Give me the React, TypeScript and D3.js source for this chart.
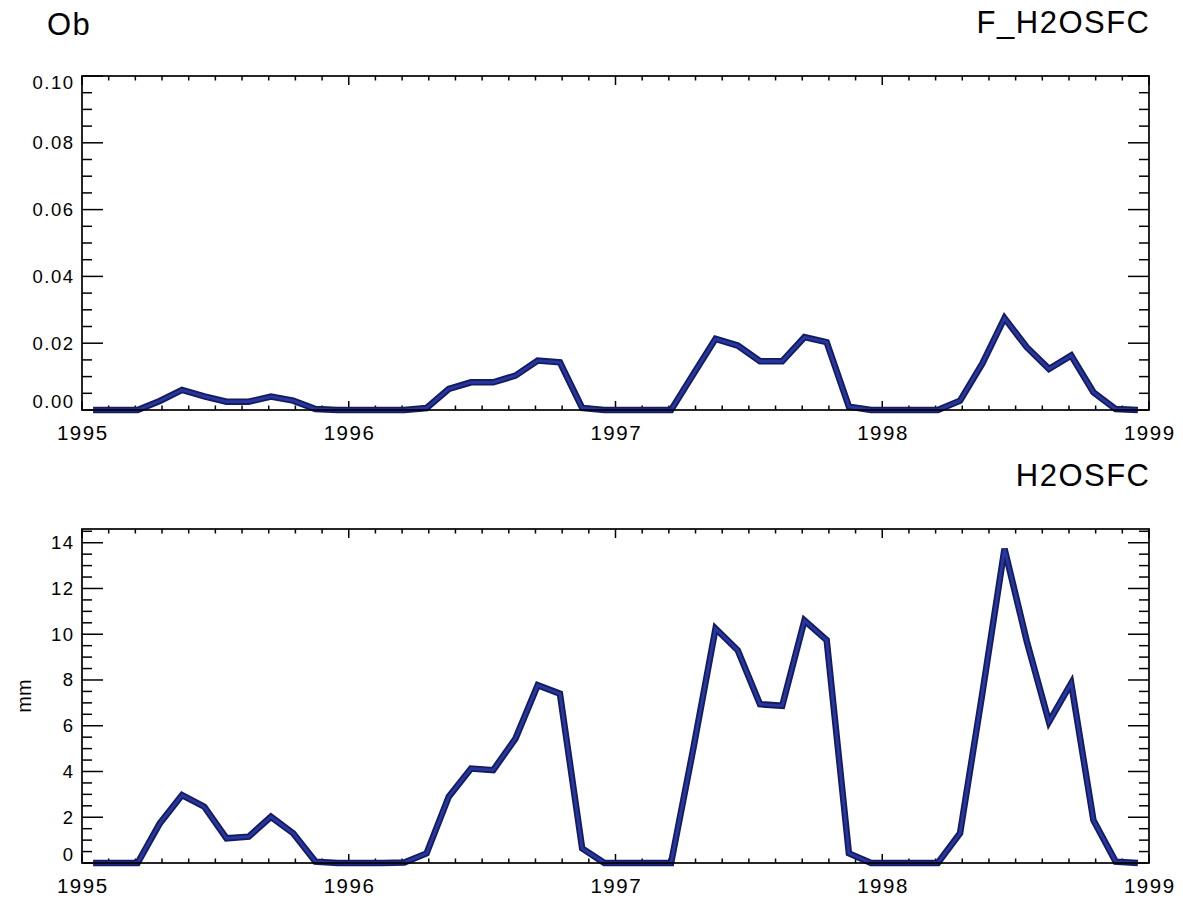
import React from 'react';
import * as d3 from 'd3';

const W = 1183;
const H = 901;

// decimal-year range of the x axis and its labelled years
const xYears = [1995, 1996, 1997, 1998, 1999];

// monthly means, Jan 1995 .. Dec 1998
const fH2osfc = [
  0, 0, 0, 0.0027, 0.006, 0.0041, 0.0025, 0.0025, 0.004, 0.0028, 0.0003, 0,
  0, 0, 0, 0.0006, 0.0063, 0.0083, 0.0083, 0.0103, 0.0148, 0.0143, 0.0006, 0,
  0, 0, 0, 0.0107, 0.0213, 0.0193, 0.0146, 0.0146, 0.0218, 0.0203, 0.001, 0,
  0, 0, 0, 0.0028, 0.0139, 0.0275, 0.0188, 0.0123, 0.0163, 0.0053, 0.0003, 0,
];

const h2osfc = [
  0, 0, 0, 1.73, 2.97, 2.46, 1.08, 1.15, 2.02, 1.3, 0.06, 0,
  0, 0, 0.02, 0.42, 2.9, 4.13, 4.06, 5.44, 7.77, 7.4, 0.64, 0,
  0, 0, 0, 5.0, 10.25, 9.3, 6.94, 6.87, 10.6, 9.74, 0.42, 0,
  0, 0, 0, 1.3, 7.4, 13.74, 9.7, 6.17, 7.86, 1.87, 0.06, 0,
];

const fTicks = [0, 0.02, 0.04, 0.06, 0.08, 0.1];
const fTickLabels = ['0.00', '0.02', '0.04', '0.06', '0.08', '0.10'];
const hTicks = [0, 2, 4, 6, 8, 10, 12, 14];
const hTickLabels = ['0', '2', '4', '6', '8', '10', '12', '14'];

const FONT = '"Liberation Sans", Arial, Helvetica, sans-serif';
const LEFT = 82;
const RIGHT = 1149;

type Panel = {
  top: number;
  bottom: number;
  values: number[];
  domain: [number, number];
  ticks: number[];
  labels: string[];
  minorStep: number;
  leftTitle?: string;
  rightTitle: string;
  yLabel?: string;
};

const panels: Panel[] = [
  {
    top: 76,
    bottom: 410,
    values: fH2osfc,
    domain: [0, 0.1],
    ticks: fTicks,
    labels: fTickLabels,
    minorStep: 0.005,
    leftTitle: 'Ob',
    rightTitle: 'F_H2OSFC',
  },
  {
    top: 529,
    bottom: 863,
    values: h2osfc,
    domain: [0, 14.6],
    ticks: hTicks,
    labels: hTickLabels,
    minorStep: 0.5,
    rightTitle: 'H2OSFC',
    yLabel: 'mm',
  },
];

const x = d3.scaleLinear().domain([xYears[0], xYears[xYears.length - 1]]).range([LEFT, RIGHT]);
const xMinor = d3.range(0, 41).map((k) => xYears[0] + k * 0.1);

function PanelView({ p }: { p: Panel }) {
  const y = d3.scaleLinear().domain(p.domain).range([p.bottom, p.top]);
  const line = d3
    .line<number>()
    .x((_, i) => x(xYears[0] + (i + 0.5) / 12))
    .y((d) => y(d));
  const path = line(p.values) || '';
  const yMinor = d3.range(p.domain[0], p.domain[1] + 1e-9, p.minorStep);
  const ax = '#000';
  const labelY = (t: number, i: number) => {
    if (Math.abs(t - p.domain[1]) < 1e-9) return p.top + 13;
    if (i === 0) return p.bottom - 2;
    return y(t) + 6.4;
  };
  return (
    <g>
      {xMinor.map((t, k) => {
        const major = k % 10 === 0;
        const len = major ? 9 : 4.5;
        const xx = x(t);
        return (
          <g key={'xm' + k}>
            <line x1={xx} x2={xx} y1={p.bottom} y2={p.bottom - len} stroke={ax} strokeWidth={1.5} />
            <line x1={xx} x2={xx} y1={p.top} y2={p.top + len} stroke={ax} strokeWidth={1.5} />
          </g>
        );
      })}
      {yMinor.map((t, k) => {
        const major = p.ticks.some((m) => Math.abs(m - t) < 1e-9);
        const len = major ? 21 : 10;
        const yy = y(t);
        return (
          <g key={'ym' + k}>
            <line x1={LEFT} x2={LEFT + len} y1={yy} y2={yy} stroke={ax} strokeWidth={1.5} />
            <line x1={RIGHT} x2={RIGHT - len} y1={yy} y2={yy} stroke={ax} strokeWidth={1.5} />
          </g>
        );
      })}
      <path d={path} fill="none" stroke="#151c5e" strokeWidth={6.5} strokeLinejoin="miter" />
      <path d={path} fill="none" stroke="#2737a2" strokeWidth={2.8} strokeLinejoin="miter" />
      <rect x={LEFT} y={p.top} width={RIGHT - LEFT} height={p.bottom - p.top} fill="none" stroke={ax} strokeWidth={1.7} />
      {p.ticks.map((t, i) => (
        <text
          key={'yl' + i}
          x={74.5}
          y={labelY(t, i)}
          textAnchor="end"
          fontFamily={FONT}
          fontSize={18.5}
          letterSpacing={1.5}
          fill="#000"
        >
          {p.labels[i]}
        </text>
      ))}
      {xYears.map((yr) => (
        <text
          key={'xl' + yr}
          x={x(yr) + 0.75}
          y={p.bottom + 30}
          textAnchor="middle"
          fontFamily={FONT}
          fontSize={20.5}
          letterSpacing={1.5}
          fill="#000"
        >
          {String(yr)}
        </text>
      ))}
      {p.leftTitle && (
        <text x={47} y={35} fontFamily={FONT} fontSize={31} letterSpacing={1.5} fill="#000">
          {p.leftTitle}
        </text>
      )}
      <text
        x={RIGHT + 1.5}
        y={p.top - 43}
        textAnchor="end"
        fontFamily={FONT}
        fontSize={31}
        letterSpacing={1.5}
        fill="#000"
      >
        {p.rightTitle}
      </text>
      {p.yLabel && (
        <text
          transform={`translate(31, ${(p.top + p.bottom) / 2}) rotate(-90)`}
          textAnchor="middle"
          fontFamily={FONT}
          fontSize={20}
          fill="#000"
        >
          {p.yLabel}
        </text>
      )}
    </g>
  );
}

export default function App() {
  return (
    <svg
      width={W}
      height={H}
      viewBox={`0 0 ${W} ${H}`}
      style={{ position: 'absolute', left: 0, top: 0, background: '#fff' }}
    >
      <rect x={0} y={0} width={W} height={H} fill="#fff" />
      {panels.map((p, i) => (
        <PanelView key={i} p={p} />
      ))}
    </svg>
  );
}
